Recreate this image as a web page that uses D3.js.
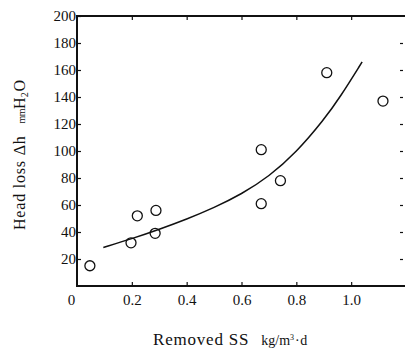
<!DOCTYPE html>
<html>
<head>
<meta charset="utf-8">
<script src="https://cdn.jsdelivr.net/npm/d3@7"></script>
<style>
  body { margin: 0; background: #fff; }
  svg { display: block; }
  text { font-family: "Liberation Serif", "Times New Roman", serif; fill: #111; }
</style>
</head>
<body>
<svg id="chart" width="405" height="353"></svg>
<script>
// measured points (removed SS, head loss)
const removedSS = [0.047, 0.197, 0.22, 0.285, 0.288, 0.672, 0.672, 0.742, 0.911, 1.116];
const headLoss  = [15, 32, 52, 39, 56, 101, 61, 78, 158, 137];

// fitted curve
const curveX = [0.096, 0.2, 0.3, 0.4, 0.5, 0.6, 0.7, 0.8, 0.9, 0.96, 1.04];
const curveY = [28.5, 35, 42, 49.5, 58, 68, 81, 99, 123, 140, 166];

const xTicks = [0, 0.2, 0.4, 0.6, 0.8, 1.0];
const yTicks = [20, 40, 60, 80, 100, 120, 140, 160, 180, 200];

const margin = {top: 16, right: -1, bottom: 67, left: 77};
const width = 405, height = 353;
const serif = '"Liberation Serif", "Times New Roman", serif';

const svg = d3.select('#chart');

const x = d3.scaleLinear().domain([0, 1.2]).range([margin.left, width - margin.right]);
const y = d3.scaleLinear().domain([0, 200]).range([height - margin.bottom, margin.top]);

// frame
svg.append('rect')
  .attr('x', x(0)).attr('y', y(200))
  .attr('width', x(1.2) - x(0)).attr('height', y(0) - y(200))
  .attr('fill', 'none').attr('stroke', '#111').attr('stroke-width', 2);

// bottom axis, ticks pointing in
const xAxis = svg.append('g')
  .attr('transform', `translate(0,${y(0)})`)
  .call(d3.axisBottom(x).tickValues(xTicks).tickSizeInner(-4).tickSizeOuter(0).tickPadding(8)
    .tickFormat(d => d === 0 ? '0' : d3.format('.1f')(d)));
xAxis.select('.domain').remove();
xAxis.attr('font-family', null);
xAxis.selectAll('text').style('font-size', '15px').style('font-family', serif);
xAxis.selectAll('.tick').filter(d => d === 0).select('text').attr('dx', -6);
xAxis.selectAll('.tick').filter(d => d === 0).select('line').remove();

// top axis ticks
const xTop = svg.append('g')
  .attr('transform', `translate(0,${y(200)})`)
  .call(d3.axisTop(x).tickValues(xTicks.filter(d => d > 0)).tickSizeInner(-4).tickSizeOuter(0).tickFormat(''));
xTop.select('.domain').remove();

// left axis
const yAxis = svg.append('g')
  .attr('transform', `translate(${x(0)},0)`)
  .call(d3.axisLeft(y).tickValues(yTicks).tickSizeInner(-4).tickSizeOuter(0).tickPadding(1));
yAxis.select('.domain').remove();
yAxis.attr('font-family', null);
yAxis.selectAll('text').style('font-size', '15px').style('font-family', serif);

// right side ticks (axis line is just outside the picture)
const yRight = svg.append('g')
  .attr('transform', `translate(403,0)`)
  .call(d3.axisRight(y).tickValues(yTicks.filter(d => d < 200)).tickSizeInner(-3).tickSizeOuter(0).tickFormat(''));
yRight.select('.domain').remove();

svg.selectAll('.tick line').attr('stroke', '#111').attr('stroke-width', 1.2);

// curve
const curve = curveX.map((d, i) => [d, curveY[i]]);
svg.append('path')
  .datum(curve)
  .attr('fill', 'none')
  .attr('stroke', '#111')
  .attr('stroke-width', 1.5)
  .attr('d', d3.line().x(d => x(d[0])).y(d => y(d[1])).curve(d3.curveBasis));

// data points
svg.append('g')
  .selectAll('circle')
  .data(removedSS.map((d, i) => [d, headLoss[i]]))
  .join('circle')
  .attr('cx', d => x(d[0]))
  .attr('cy', d => y(d[1]))
  .attr('r', 5)
  .attr('fill', 'none')
  .attr('stroke', '#111')
  .attr('stroke-width', 1.3);

// y title
const yTitle = svg.append('text')
  .attr('transform', 'translate(25,230) rotate(-90)')
  .attr('font-size', 16)
  .attr('letter-spacing', 0.8);
yTitle.append('tspan').text('Head loss \u0394h');
yTitle.append('tspan').attr('dx', 12).attr('font-size', 10).attr('letter-spacing', -0.5).text('mm');
yTitle.append('tspan').attr('letter-spacing', 0).text('H');
yTitle.append('tspan').attr('font-size', 10).attr('dy', 3).text('2');
yTitle.append('tspan').attr('dy', -3).text('O');

// x title
const xTitle = svg.append('text')
  .attr('x', 153).attr('y', 345)
  .attr('font-size', 17)
  .attr('letter-spacing', 0.8);
xTitle.append('tspan').text('Removed SS');
xTitle.append('tspan').attr('dx', 12).attr('font-size', 14).attr('letter-spacing', 0).text('kg/m');
xTitle.append('tspan').attr('font-size', 8).attr('dy', -5).text('3');
xTitle.append('tspan').attr('font-size', 14).attr('dy', 5).text('\u00b7d');
</script>
</body>
</html>
